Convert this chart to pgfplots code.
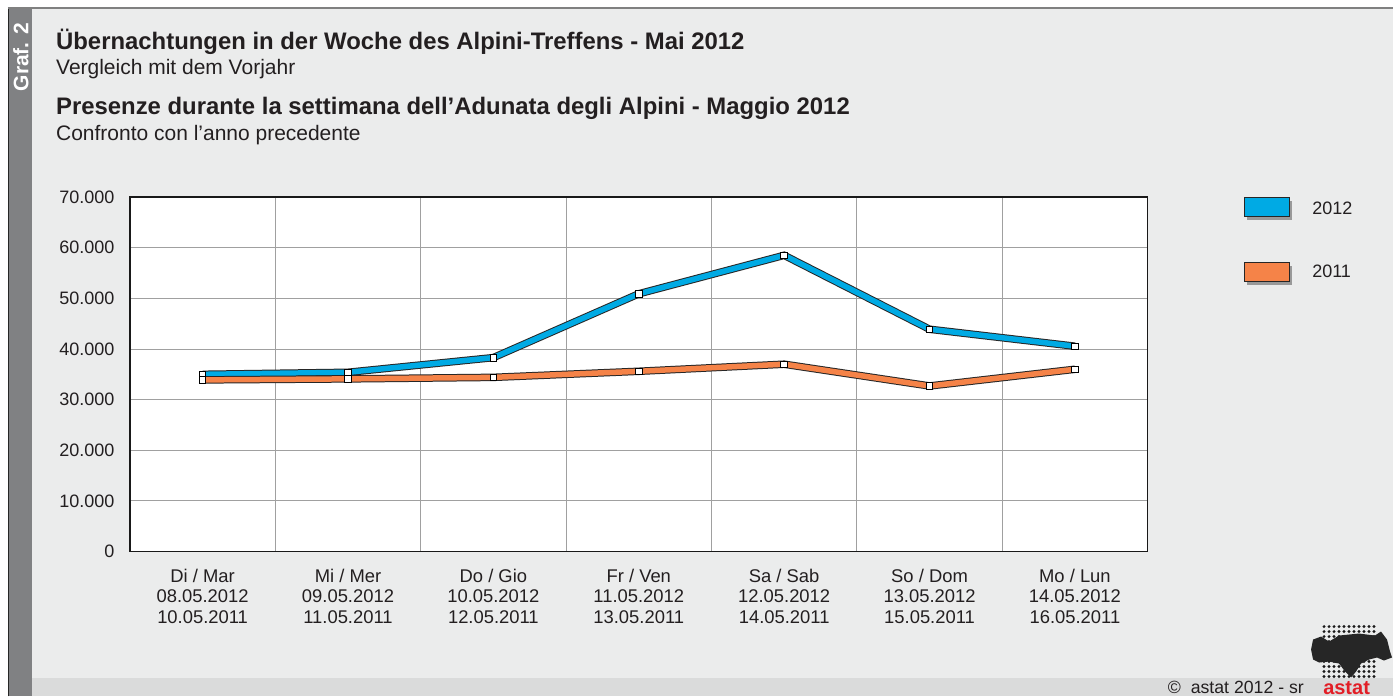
\documentclass[border=0pt]{standalone}
\usepackage{fontspec}
\setmainfont{Liberation Sans}
\usepackage{pgfplots}
\usepackage{pgfplotstable}
\usetikzlibrary{backgrounds}
\pgfplotsset{compat=1.18}
\definecolor{bg}{RGB}{235,236,236}
\definecolor{strip}{RGB}{128,129,131}
\definecolor{foot}{RGB}{218,219,219}
\definecolor{cblue}{RGB}{0,170,228}
\definecolor{corange}{RGB}{245,131,72}
\definecolor{gridc}{RGB}{160,160,160}
\definecolor{txt}{RGB}{35,31,32}
\definecolor{astatred}{RGB}{226,30,38}
\pgfplotstableread{
x y2012 y2011
0 35000 33900
1 35400 34100
2 38300 34400
3 50900 35600
4 58500 37000
5 43900 32700
6 40550 36000
}\data
\begin{document}
\begin{tikzpicture}
\begin{axis}[
  name=ax, at={(0,0)}, anchor=south west,
  scale only axis, width=1018.5pt, height=354.8pt,
  xmin=-0.5, xmax=6.5, ymin=0, ymax=70000,
  axis background/.style={fill=white},
  axis line style={black!90,line width=1.3pt},
  xtick={0,...,6},
  xticklabels={{Di / Mar\\08.05.2012\\10.05.2011},{Mi / Mer\\09.05.2012\\11.05.2011},{Do / Gio\\10.05.2012\\12.05.2011},{Fr / Ven\\11.05.2012\\13.05.2011},{Sa / Sab\\12.05.2012\\14.05.2011},{So / Dom\\13.05.2012\\15.05.2011},{Mo / Lun\\14.05.2012\\16.05.2011}},
  xticklabel style={align=center,text=txt,font=\fontsize{18.4}{20.5}\selectfont,yshift=-14pt},
  minor xtick={0.5,1.5,...,5.5},
  xminorgrids=true, xmajorgrids=false,
  ytick={0,10000,...,70000},
  ymajorgrids=true,
  grid style={gridc,line width=1pt},
  minor grid style={gridc,line width=1pt},
  major tick length=0pt, minor tick length=0pt,
  scaled y ticks=false,
  /pgf/number format/1000 sep={.},
  /pgf/number format/assume math mode=true,
  yticklabel style={text=txt,font=\fontsize{18}{20}\selectfont,xshift=-12pt},
  clip=false,
]
\addplot[draw=black!85,line width=7.5pt,no marks] table[x=x,y=y2012] {\data};
\addplot[draw=cblue,line width=5.5pt,mark=square*,mark size=3.3pt,mark options={fill=white,draw=black,line width=0.8pt}] table[x=x,y=y2012] {\data};
\addplot[draw=black!85,line width=7.5pt,no marks] table[x=x,y=y2011] {\data};
\addplot[draw=corange,line width=5.5pt,mark=square*,mark size=3.3pt,mark options={fill=white,draw=black,line width=0.8pt}] table[x=x,y=y2011] {\data};
\end{axis}
\begin{scope}[on background layer,shift={(ax.south west)},xshift=-130pt,yshift=-145pt,x=1pt,y=1pt]
\fill[white] (0,0) rectangle (1394,697);
\fill[bg] (8,0) rectangle (1394,689);
\fill[foot] (32,0) rectangle (1394,19);
\fill[strip] (9,0) rectangle (32,689);
\draw[black!85,line width=1pt] (8.5,0) -- (8.5,689);
\draw[black!50,line width=2pt] (8,689) -- (1394,689);
\node[rotate=90,text=white,font=\fontsize{21}{24}\selectfont\bfseries] at (21,640) {Graf. 2};
% titles
\node[anchor=base west,inner sep=0pt,text=txt,font=\fontsize{23.9}{26}\selectfont\bfseries] at (56,647) {Übernachtungen in der Woche des Alpini-Treffens - Mai 2012};
\node[anchor=base west,inner sep=0pt,text=txt,font=\fontsize{21}{24}\selectfont] at (56,622) {Vergleich mit dem Vorjahr};
\node[anchor=base west,inner sep=0pt,text=txt,font=\fontsize{23.9}{26}\selectfont\bfseries] at (56,582) {Presenze durante la settimana dell’Adunata degli Alpini - Maggio 2012};
\node[anchor=base west,inner sep=0pt,text=txt,font=\fontsize{21}{24}\selectfont] at (56,556) {Confronto con l’anno precedente};
% legend
\fill[black!40] (1248,477) rectangle (1293,496);
\filldraw[fill=cblue,draw=black!85,line width=1pt] (1245,480) rectangle (1290,499);
\node[anchor=west,inner sep=0pt,text=txt,font=\fontsize{18}{20}\selectfont] at (1313,489) {2012};
\fill[black!40] (1248,412) rectangle (1293,431);
\filldraw[fill=corange,draw=black!85,line width=1pt] (1245,415) rectangle (1290,434);
\node[anchor=west,inner sep=0pt,text=txt,font=\fontsize{18}{20}\selectfont] at (1313,425) {2011};
% footer
\node[anchor=base east,inner sep=0pt,text=txt,font=\fontsize{17.7}{20}\selectfont] at (1305,3) {©\ \ astat 2012 - sr};
\node[anchor=base west,inner sep=0pt,text=astatred,font=\fontsize{20}{22}\selectfont\bfseries] at (1324,2) {astat};
% logo
\foreach \i in {0,...,10} {\foreach \j in {0,...,10} {\fill[black!90] (1325+\i*5,20+\j*5) circle (1.6);}}
\fill[black!85] (1312,47) -- (1314,57) -- (1322,60) -- (1330,55) -- (1340,61) -- (1360,63) -- (1376,61) -- (1382,65) -- (1388,57) -- (1391,45) -- (1393,39) -- (1385,36) -- (1378,39) -- (1370,37) -- (1362,33) -- (1357,25) -- (1352,19) -- (1346,25) -- (1340,33) -- (1330,35) -- (1320,34) -- (1314,37) -- cycle;
\end{scope}
\end{tikzpicture}
\end{document}
